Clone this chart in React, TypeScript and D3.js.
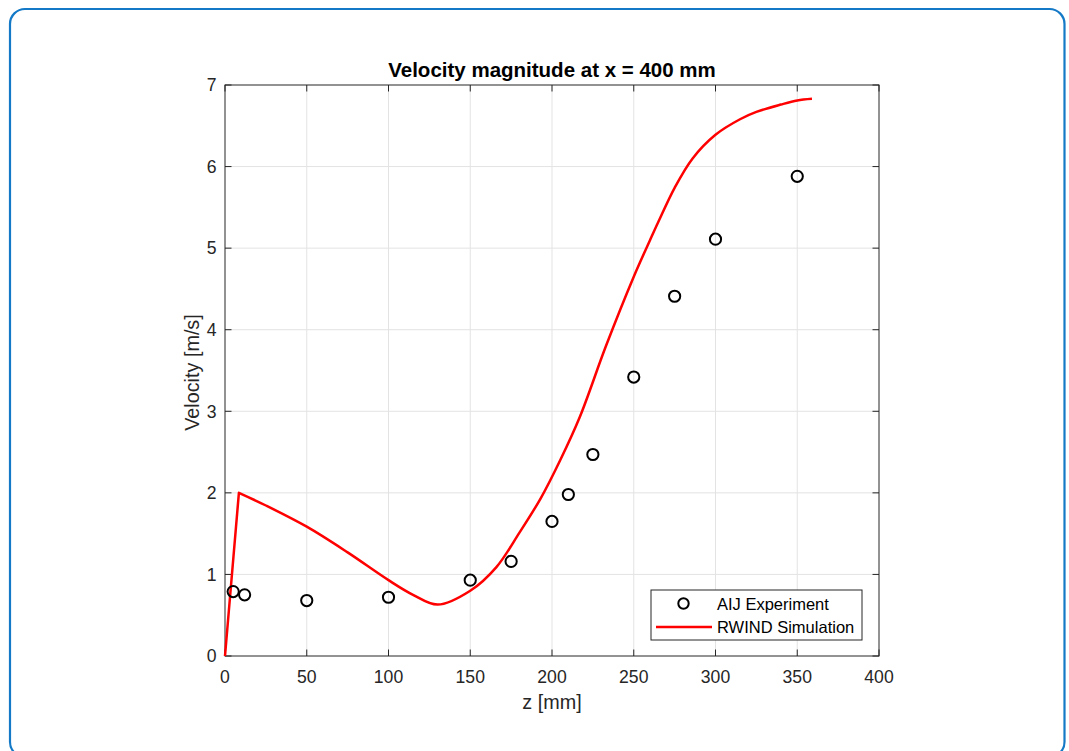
import React from "react";
import * as d3 from "d3";

// Measured velocity magnitude (AIJ wind tunnel experiment)
const expZ = [5, 12, 50, 100, 150, 175, 200, 210, 225, 250, 275, 300, 350];
const expV = [0.79, 0.75, 0.68, 0.72, 0.93, 1.16, 1.65, 1.98, 2.47, 3.42, 4.41, 5.11, 5.88];

// RWIND simulation profile
const simZ = [0, 8.5, 25, 50, 75, 100, 115, 130, 150, 166, 180, 193, 205, 217, 233, 250, 260, 265, 275, 286, 300, 315, 325, 340, 350, 359];
const simV = [0, 2.0, 1.845, 1.585, 1.27, 0.93, 0.75, 0.63, 0.8, 1.09, 1.51, 1.93, 2.4, 2.93, 3.8, 4.65, 5.1, 5.32, 5.74, 6.1, 6.39, 6.58, 6.67, 6.76, 6.81, 6.83];

const xTicks = [0, 50, 100, 150, 200, 250, 300, 350, 400];
const yTicks = [0, 1, 2, 3, 4, 5, 6, 7];

const titleText = "Velocity magnitude at x = 400 mm";
const xLabel = "z [mm]";
const yLabel = "Velocity [m/s]";
const legendLabels = ["AIJ Experiment", "RWIND Simulation"];

const W = 1069;
const H = 751;
const plot = { left: 225, right: 879, top: 85, bottom: 656 };
const axisColor = "#262626";
const gridColor = "#e3e3e3";
const font = "'Liberation Sans', Arial, Helvetica, sans-serif";

export default function App() {
  const x = d3.scaleLinear().domain([0, 400]).range([plot.left, plot.right]);
  const y = d3.scaleLinear().domain([0, 7]).range([plot.bottom, plot.top]);

  const pts: [number, number][] = simZ.map((z, i) => [z, simV[i]]);
  const lin = d3
    .line<[number, number]>()
    .x((d) => x(d[0]))
    .y((d) => y(d[1]))
    .curve(d3.curveLinear);
  const smooth = d3
    .line<[number, number]>()
    .x((d) => x(d[0]))
    .y((d) => y(d[1]))
    .curve(d3.curveCatmullRom.alpha(0.5));
  // sharp rise to the first peak, smooth profile afterwards
  const simPath = (lin(pts.slice(0, 2)) || "") + (smooth(pts.slice(1)) || "").replace(/^M[^A-Za-z]*/, "");

  const tick = 6.5;
  const leg = { x: 651, y: 590, w: 211, h: 50 };

  return (
    <svg
      width={W}
      height={H}
      style={{ position: "absolute", left: 0, top: 0, background: "#fff" }}
      fontFamily={font}
    >
      <rect x={10} y={9} width={1054.5} height={748} rx={15} ry={15} fill="#fff" stroke="#1479c6" strokeWidth={2.2} />

      {/* grid */}
      <g stroke={gridColor} strokeWidth={1}>
        {xTicks.slice(1, -1).map((t) => (
          <line key={"gx" + t} x1={x(t)} x2={x(t)} y1={plot.top} y2={plot.bottom} />
        ))}
        {yTicks.slice(1, -1).map((t) => (
          <line key={"gy" + t} x1={plot.left} x2={plot.right} y1={y(t)} y2={y(t)} />
        ))}
      </g>

      {/* axes box and ticks */}
      <g stroke={axisColor} strokeWidth={1} fill="none">
        <rect x={plot.left} y={plot.top} width={plot.right - plot.left} height={plot.bottom - plot.top} />
        {xTicks.map((t) => (
          <g key={"tx" + t}>
            <line x1={x(t)} x2={x(t)} y1={plot.bottom} y2={plot.bottom - tick} />
            <line x1={x(t)} x2={x(t)} y1={plot.top} y2={plot.top + tick} />
          </g>
        ))}
        {yTicks.map((t) => (
          <g key={"ty" + t}>
            <line x1={plot.left} x2={plot.left + tick} y1={y(t)} y2={y(t)} />
            <line x1={plot.right} x2={plot.right - tick} y1={y(t)} y2={y(t)} />
          </g>
        ))}
      </g>

      {/* tick labels */}
      <g fill={axisColor} fontSize={17.6}>
        {xTicks.map((t) => (
          <text key={"lx" + t} x={x(t)} y={683} textAnchor="middle">
            {t}
          </text>
        ))}
        {yTicks.map((t) => (
          <text key={"ly" + t} x={216.5} y={y(t) + 6.3} textAnchor="end">
            {t}
          </text>
        ))}
      </g>

      {/* title and axis labels */}
      <text x={(plot.left + plot.right) / 2} y={77} textAnchor="middle" fontWeight="bold" fontSize={20.5} fill="#000">
        {titleText}
      </text>
      <text x={(plot.left + plot.right) / 2} y={709} textAnchor="middle" fontSize={19.8} fill={axisColor}>
        {xLabel}
      </text>
      <text
        transform={`translate(199,${(plot.top + plot.bottom) / 2 + 2}) rotate(-90)`}
        textAnchor="middle"
        fontSize={19.8}
        fill={axisColor}
      >
        {yLabel}
      </text>

      {/* simulation line */}
      <path d={simPath} fill="none" stroke="#ff0000" strokeWidth={2.5} strokeLinejoin="round" />

      {/* experiment markers */}
      <g fill="none" stroke="#000" strokeWidth={2}>
        {expZ.map((z, i) => (
          <circle key={"p" + i} cx={x(z)} cy={y(expV[i])} r={5.6} />
        ))}
      </g>

      {/* legend */}
      <rect x={leg.x} y={leg.y} width={leg.w} height={leg.h} fill="#fff" stroke={axisColor} strokeWidth={1} />
      <circle cx={683.5} cy={603.5} r={5.2} fill="none" stroke="#000" strokeWidth={2} />
      <line x1={656} x2={712} y1={627} y2={627} stroke="#ff0000" strokeWidth={2.5} />
      <g fontSize={16.5} fill="#000">
        <text x={717} y={609.5}>{legendLabels[0]}</text>
        <text x={717} y={633}>{legendLabels[1]}</text>
      </g>
    </svg>
  );
}
